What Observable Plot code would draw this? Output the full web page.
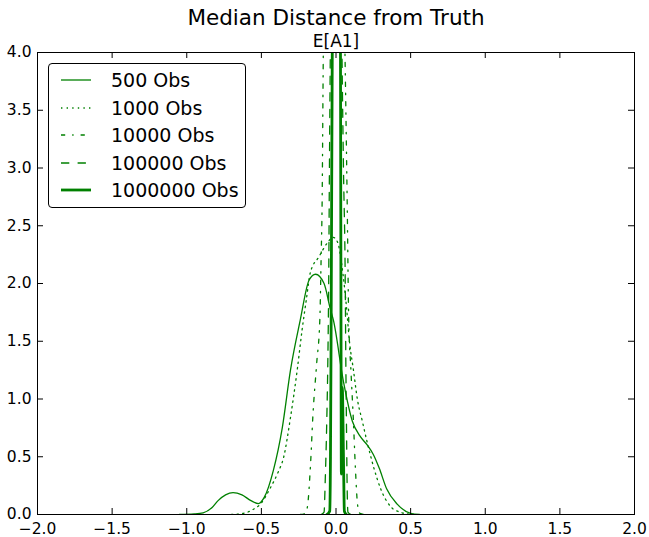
<!DOCTYPE html>
<html><head><meta charset="utf-8">
<script src="https://cdn.jsdelivr.net/npm/d3@7"></script>
<script src="https://cdn.jsdelivr.net/npm/@observablehq/plot@0.6"></script>
<style>
body{margin:0;background:#fff;font-family:"DejaVu Sans",sans-serif;}
#wrap{position:relative;width:649px;height:537px;}
#legend{position:absolute;left:48px;top:63px;width:198px;height:145px;border:1px solid #000;border-radius:4px;background:#fff;box-sizing:border-box;}
.row{position:absolute;left:0;height:24px;display:flex;align-items:center;}
.row svg{margin-left:12px;}
.row span{margin-left:20px;font-size:19px;color:#000;white-space:nowrap;}
</style></head><body><div id="wrap"></div>
<script>
const titleText = "Median Distance from Truth";
const subtitleText = "E[A1]";
const xTicks = [-2, -1.5, -1, -0.5, 0, 0.5, 1, 1.5, 2];
const yTicks = [0, 0.5, 1, 1.5, 2, 2.5, 3, 3.5, 4];
const seriesNames = ["500 Obs", "1000 Obs", "10000 Obs", "100000 Obs", "1000000 Obs"];

const x500 = [-1.05,-0.95,-0.89,-0.83,-0.79,-0.74,-0.69,-0.63,-0.57,-0.52,-0.48,-0.42,-0.36,-0.305,-0.24,-0.18,-0.137,-0.08,-0.04,-0.017,0.05,0.109,0.16,0.21,0.25,0.29,0.34,0.41,0.5,0.56];
const y500 = [0,0.005,0.015,0.06,0.12,0.17,0.19,0.17,0.12,0.095,0.15,0.38,0.75,1.25,1.68,2.03,2.08,2.0,1.79,1.68,1.15,0.81,0.68,0.6,0.52,0.4,0.22,0.09,0.01,0];

const x1000 = [-0.7,-0.62,-0.56,-0.5,-0.44,-0.39,-0.35,-0.305,-0.26,-0.227,-0.2,-0.171,-0.115,-0.059,-0.02,0.01,0.04,0.07,0.09,0.117,0.143,0.176,0.21,0.25,0.3,0.365,0.43,0.52];
const y1000 = [0,0.01,0.04,0.1,0.23,0.36,0.5,0.84,1.25,1.6,1.85,2.1,2.23,2.35,2.4,2.36,2.15,1.8,1.5,1.25,1.0,0.81,0.62,0.42,0.22,0.07,0.02,0];

const x10000 = [-0.24,-0.205,-0.19,-0.17,-0.155,-0.13,-0.108,-0.1,-0.093,-0.085,-0.07,-0.04,-0.01,0.02,0.045,0.06,0.075,0.085,0.1,0.117,0.13,0.145,0.16,0.19];
const y10000 = [0,0.01,0.08,0.45,0.85,1.3,1.7,2.2,2.7,4.0,5.0,5.8,6.0,5.8,5.0,4.0,2.7,1.7,1.25,0.8,0.4,0.08,0.01,0];

const x100000 = [-0.1,-0.08,-0.072,-0.062,-0.055,-0.049,-0.044,-0.038,-0.02,0,0.02,0.04,0.05,0.062,0.066,0.07,0.074,0.08,0.1];
const y100000 = [0,0.02,0.3,0.8,1.3,2.0,3.0,4.0,7,8,7,4.0,3.0,2.0,1.3,0.8,0.3,0.02,0];

const x1000000 = [-0.06,-0.042,-0.037,-0.033,-0.029,-0.025,-0.015,0.002,0.02,0.03,0.033,0.036,0.042,0.05,0.056,0.07];
const y1000000 = [0,0.03,0.5,1.5,2.8,4.0,7,9,7,4.0,2.0,0.35,1.1,0.5,0.03,0];

const green = "#008000";
const styles = [
  {w: 1.3, dash: null},
  {w: 1.3, dash: "1.4,4.2"},
  {w: 1.3, dash: "4.2,7,1.4,7"},
  {w: 1.3, dash: "8.3,8.3"},
  {w: 2.8, dash: null}
];
const xs = [x500, x1000, x10000, x100000, x1000000];
const ys = [y500, y1000, y10000, y100000, y1000000];
const series = xs.map((xa, i) => xa.map((x, j) => ({x, y: ys[i][j]})));

const W = 649, H = 537, mL = 37, mR = 15, mT = 52, mB = 23;
const fw = W - mL - mR, fh = H - mT - mB, tl = 6;
const fmt = d => d.toFixed(1).replace("-", "\u2212");

const marks = [];
series.forEach((data, i) => {
  marks.push(Plot.line(data, {x: "x", y: "y", stroke: green, strokeWidth: styles[i].w,
    strokeDasharray: styles[i].dash, curve: "monotone-x", clip: true}));
});
marks.push(
  Plot.tickX(xTicks, {x: d => d, stroke: "black", insetTop: fh - tl}),
  Plot.tickX(xTicks, {x: d => d, stroke: "black", insetBottom: fh - tl}),
  Plot.tickY(yTicks, {y: d => d, stroke: "black", insetRight: fw - tl}),
  Plot.tickY(yTicks, {y: d => d, stroke: "black", insetLeft: fw - tl}),
  Plot.axisX({ticks: xTicks, tickSize: 0, tickPadding: 8, tickFormat: fmt, fontSize: 15.5, fill: "black", label: null}),
  Plot.axisY({ticks: yTicks, tickSize: 0, tickPadding: 6, tickFormat: fmt, fontSize: 15.5, fill: "black", label: null}),
  Plot.frame({stroke: "black"}),
  Plot.text([titleText], {text: d => d, frameAnchor: "top", dy: -43, fontSize: 21.5, fill: "black"}),
  Plot.text([subtitleText], {text: d => d, frameAnchor: "top", dy: -18, fontSize: 17, fill: "black"})
);

const chart = Plot.plot({
  width: W, height: H, marginLeft: mL, marginRight: mR, marginTop: mT, marginBottom: mB,
  x: {domain: [-2, 2]}, y: {domain: [0, 4]},
  style: {fontFamily: "DejaVu Sans", background: "white", color: "black"},
  marks
});
const wrap = document.getElementById("wrap");
wrap.appendChild(chart);

const legend = document.createElement("div");
legend.id = "legend";
seriesNames.forEach((name, i) => {
  const row = document.createElement("div");
  row.className = "row";
  row.style.top = (4 + i * 27.6) + "px";
  const dash = styles[i].dash ? `stroke-dasharray="${styles[i].dash}"` : "";
  row.innerHTML = `<svg width="30" height="10"><line x1="0" y1="5" x2="30" y2="5" stroke="${green}" stroke-width="${styles[i].w}" ${dash}/></svg><span>${name}</span>`;
  legend.appendChild(row);
});
wrap.appendChild(legend);
</script>
</body></html>
